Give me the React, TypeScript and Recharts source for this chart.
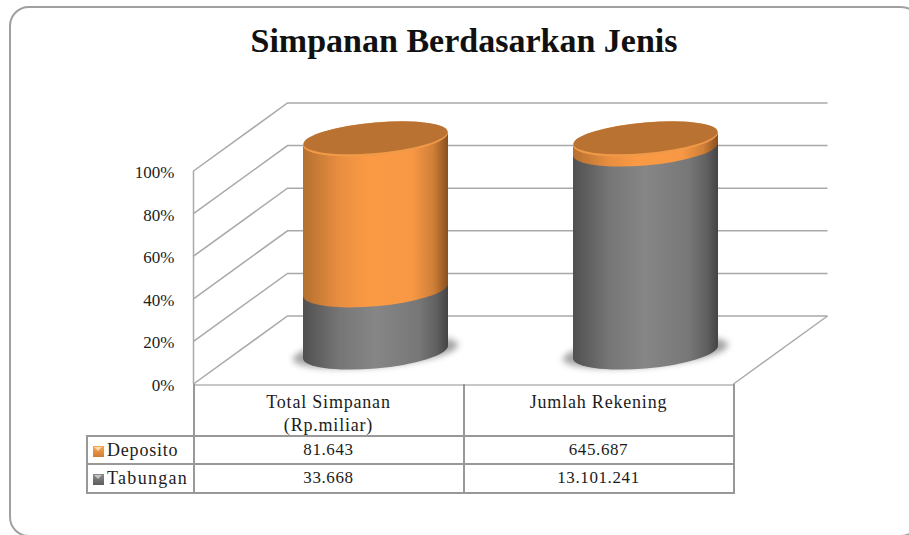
import { BarChart, Bar, XAxis, YAxis, CartesianGrid } from "recharts";

const categories = [["Total Simpanan", "(Rp.miliar)"], ["Jumlah Rekening"]];
const deposito = [81643, 645687];
const tabungan = [33668, 13101241];
const yTicks = [0, 0.2, 0.4, 0.6, 0.8, 1];
const title = "Simpanan Berdasarkan Jenis";

const rows = categories.map((c, i) => ({
  name: c.join(" "),
  Tabungan: tabungan[i],
  Deposito: deposito[i],
}));

const FONT = "'Liberation Serif', serif";
const DEPTH_X = 94;
const DEPTH_Y = 68;
const BAR_DX = 46.5;
const BAR_DY = -32;
const SHEAR = 0.085;
const CAP_B = 16.5;
const LINE = "#a9a9a9";
const TABLE_LINE = "#989898";

const fmt = (n: number) => String(n).replace(/\B(?=(\d{3})+$)/g, ".");

function WallLine(props: any) {
  const { x1, y1, x2, index } = props;
  const isFloor = y1 > 380;
  return (
    <g key={`wall-${index}-${y1}`} fill="none" stroke={LINE} strokeWidth={1.5}>
      <path d={`M${x1} ${y1}L${x1 + DEPTH_X} ${y1 - DEPTH_Y}L${x2 + DEPTH_X} ${y1 - DEPTH_Y}`} />
      {isFloor && <path d={`M${x2} ${y1}L${x2 + DEPTH_X} ${y1 - DEPTH_Y}`} />}
    </g>
  );
}

function Cylinder(props: any) {
  const { x, y, width, height, fillId, cap, shadow } = props;
  const a = width / 2;
  const cx = x + a + BAR_DX;
  const top = y + BAR_DY;
  const bottom = y + height + BAR_DY;
  return (
    <g transform={`matrix(1 ${-SHEAR} 0 1 ${cx} 0)`}>
      {shadow && <ellipse cx={0} cy={bottom} rx={a + 10} ry={CAP_B - 1.5} fill="#666" opacity={0.6} filter="url(#shadowBlur)" />}
      <path
        d={`M${-a} ${top}L${a} ${top}L${a} ${bottom}A${a} ${CAP_B} 0 0 1 ${-a} ${bottom}Z`}
        fill={`url(#${fillId})`}
      />
      {cap && (
        <g>
          <ellipse cx={0} cy={top} rx={a} ry={CAP_B} fill="#f09a48" />
          <ellipse cx={0} cy={top - 1.2} rx={a - 0.5} ry={CAP_B - 1.2} fill="#ba7232" />
        </g>
      )}
    </g>
  );
}

function LegendKey({ from, to, mark }: { from: string; to: string; mark: string }) {
  return (
    <span
      style={{
        display: "inline-block",
        position: "relative",
        width: 11,
        height: 11,
        marginRight: 3,
        background: `linear-gradient(${from}, ${to})`,
        verticalAlign: -1,
      }}
    >
      <span
        style={{
          position: "absolute",
          left: 1,
          top: 1,
          width: 0,
          height: 0,
          borderLeft: "4.5px solid transparent",
          borderRight: "4.5px solid transparent",
          borderTop: `4px solid ${mark}`,
        }}
      />
    </span>
  );
}

const cellStyle: React.CSSProperties = {
  position: "absolute",
  textAlign: "center",
  fontFamily: FONT,
  fontSize: 17,
  letterSpacing: 0.6,
  color: "#1c1c1c",
  lineHeight: "20px",
};
const labelStyle: React.CSSProperties = { ...cellStyle, fontSize: 18, letterSpacing: 0.8 };

const COLS = [87, 193.5, 463.5, 733.5];
const ROWS = [385, 435.5, 464, 492.5];

function DataTable() {
  const hLines = [
    { left: COLS[1], right: COLS[3], top: ROWS[0], c: "#c8c8c8" },
    { left: COLS[0], right: COLS[3], top: ROWS[1], c: TABLE_LINE },
    { left: COLS[0], right: COLS[3], top: ROWS[2], c: TABLE_LINE },
    { left: COLS[0], right: COLS[3], top: ROWS[3], c: TABLE_LINE },
  ];
  const vLines = [
    { x: COLS[0], top: ROWS[1], bottom: ROWS[3] },
    { x: COLS[1], top: ROWS[0], bottom: ROWS[3] },
    { x: COLS[2], top: ROWS[0], bottom: ROWS[3] },
    { x: COLS[3], top: ROWS[0], bottom: ROWS[3] },
  ];
  return (
    <>
      {hLines.map((l, i) => (
        <div key={i} style={{ position: "absolute", left: l.left - 1, width: l.right - l.left + 2, top: l.top - 1, height: 2, background: l.c }} />
      ))}
      {vLines.map((l, i) => (
        <div key={i} style={{ position: "absolute", left: l.x - 1, width: 2, top: l.top - 1, height: l.bottom - l.top + 2, background: TABLE_LINE }} />
      ))}
      {categories.map((c, i) => (
        <div key={i} style={{ ...labelStyle, left: COLS[i + 1], width: 270, top: 391, lineHeight: "22.5px" }}>
          {c.map((t) => (
            <div key={t}>{t}</div>
          ))}
        </div>
      ))}
      <div style={{ ...labelStyle, left: COLS[0] + 6, top: ROWS[1] + 4, whiteSpace: "nowrap" }}>
        <LegendKey from="#f7a555" to="#cf7d32" mark="#fbd9a8" />
        Deposito
      </div>
      <div style={{ ...labelStyle, letterSpacing: 1.3, left: COLS[0] + 6, top: ROWS[2] + 4, whiteSpace: "nowrap" }}>
        <LegendKey from="#8c8c8c" to="#5c5c5c" mark="#c4c4c4" />
        Tabungan
      </div>
      {deposito.map((v, i) => (
        <div key={i} style={{ ...cellStyle, left: COLS[i + 1], width: 270, top: ROWS[1] + 4 }}>
          {fmt(v)}
        </div>
      ))}
      {tabungan.map((v, i) => (
        <div key={i} style={{ ...cellStyle, left: COLS[i + 1], width: 270, top: ROWS[2] + 4 }}>
          {fmt(v)}
        </div>
      ))}
    </>
  );
}

export default function App() {
  return (
    <div style={{ position: "absolute", left: 0, top: 0, width: 909, height: 535, overflow: "hidden", background: "#fff" }}>
      <div
        style={{
          position: "absolute",
          left: 9,
          top: 5.5,
          width: 912,
          height: 531,
          boxSizing: "border-box",
          border: "2px solid #a0a0a0",
          borderRadius: 20,
        }}
      />
      <div
        style={{
          position: "absolute",
          left: 0,
          width: 928,
          top: 19,
          textAlign: "center",
          fontFamily: FONT,
          fontWeight: 700,
          fontSize: 34,
          lineHeight: "44px",
          color: "#111",
        }}
      >
        {title}
      </div>
      <BarChart
        width={909}
        height={535}
        data={rows}
        stackOffset="expand"
        margin={{ left: 133.5, top: 171, right: 175.5, bottom: 151 }}
        style={{ position: "absolute", left: 0, top: 0 }}
      >
        <defs>
          <linearGradient id="orangeFill" x1="0" y1="0" x2="1" y2="0">
            <stop offset="0" stopColor="#b5702f" />
            <stop offset="0.25" stopColor="#e88e40" />
            <stop offset="0.45" stopColor="#fb9a45" />
            <stop offset="0.75" stopColor="#f99844" />
            <stop offset="0.9" stopColor="#cf7f38" />
            <stop offset="1" stopColor="#87501f" />
          </linearGradient>
          <linearGradient id="greyFill" x1="0" y1="0" x2="1" y2="0">
            <stop offset="0" stopColor="#505050" />
            <stop offset="0.25" stopColor="#767676" />
            <stop offset="0.5" stopColor="#868686" />
            <stop offset="0.8" stopColor="#777" />
            <stop offset="0.92" stopColor="#606060" />
            <stop offset="1" stopColor="#444" />
          </linearGradient>
          <filter id="shadowBlur" x="-20%" y="-50%" width="140%" height="200%">
            <feGaussianBlur stdDeviation="3" />
          </filter>
        </defs>
        <CartesianGrid vertical={false} horizontal={(p: any) => <WallLine {...p} />} />
        <XAxis dataKey="name" hide />
        <YAxis
          width={60}
          domain={[0, 1]}
          ticks={yTicks}
          tickFormatter={(v: number) => `${Math.round(v * 100)}%`}
          tickLine={false}
          tickMargin={13}
          axisLine={{ stroke: LINE, strokeWidth: 1.5 }}
          tick={{ fontFamily: FONT, fontSize: 17, fill: "#1c1c1c", dy: 1 }}
        />
        <Bar
          dataKey="Tabungan"
          stackId="a"
          barSize={145}
          isAnimationActive={false}
          shape={(p: any) => <Cylinder {...p} fillId="greyFill" shadow />}
        />
        <Bar
          dataKey="Deposito"
          stackId="a"
          barSize={145}
          isAnimationActive={false}
          shape={(p: any) => <Cylinder {...p} fillId="orangeFill" cap />}
        />
      </BarChart>
      <DataTable />
    </div>
  );
}
